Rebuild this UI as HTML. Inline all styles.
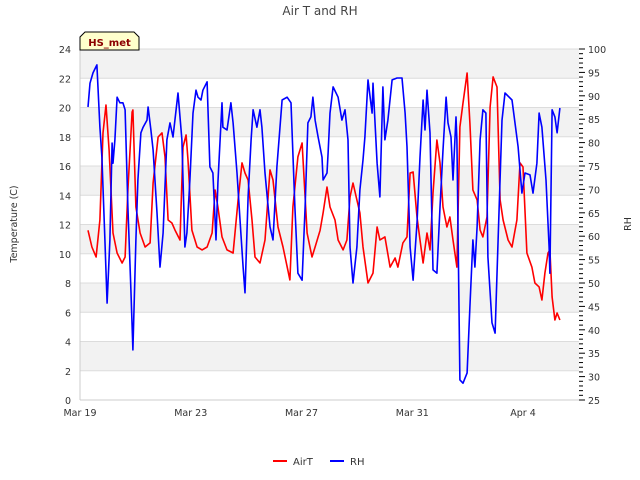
<!DOCTYPE html>
<html><head><meta charset="utf-8"><style>
html,body{margin:0;padding:0;background:#fff;}
svg{display:block;font-family:"DejaVu Sans","Liberation Sans",sans-serif;}
</style></head><body>
<svg id="chart" width="640" height="480">
<text x="320" y="15" text-anchor="middle" font-size="12" fill="#444">Air T and RH</text>
<g id="bands"></g><g id="grid"></g>
<g id="series"></g>
<g id="axes"></g>
<text transform="translate(17,224) rotate(-90)" text-anchor="middle" font-size="9.5" fill="#333">Temperature (C)</text>
<text transform="translate(631,224) rotate(-90)" text-anchor="middle" font-size="9.5" fill="#333">RH</text>
<g>
<path d="M80,50 L80,37 L85,32 L134,32 L139,37 L139,50 Z" fill="#ffffcc" stroke="#000" stroke-width="1"/>
<text x="109.5" y="46" text-anchor="middle" font-size="10" font-weight="bold" fill="#8b0000">HS_met</text>
</g>
<g>
<g><line x1="273" y1="461" x2="287" y2="461" stroke="#ff0000" stroke-width="2"/><text x="293" y="465" font-size="10" fill="#333">AirT</text></g>
<g><line x1="330" y1="461" x2="344" y2="461" stroke="#0000ff" stroke-width="2"/><text x="350" y="465" font-size="10" fill="#333">RH</text></g>
</g>
</svg>
<script>
const airtDays=[0.29,0.43,0.58,0.72,0.83,0.94,1.05,1.19,1.34,1.52,1.63,1.73,1.88,1.91,2.02,2.17,2.35,2.53,2.64,2.82,2.96,3.07,3.18,3.32,3.43,3.61,3.72,3.83,3.90,4.04,4.23,4.41,4.59,4.77,4.88,4.98,5.13,5.31,5.53,5.71,5.85,5.96,6.07,6.21,6.32,6.50,6.68,6.86,6.97,7.15,7.33,7.58,7.69,7.87,8.02,8.20,8.38,8.49,8.67,8.78,8.92,9.03,9.21,9.32,9.50,9.64,9.75,9.86,10.00,10.11,10.22,10.40,10.58,10.73,10.83,11.01,11.20,11.38,11.48,11.66,11.81,11.92,12.03,12.17,12.28,12.39,12.53,12.64,12.75,12.89,13.00,13.11,13.25,13.36,13.47,13.61,13.72,13.83,13.98,14.08,14.19,14.34,14.45,14.55,14.70,14.81,14.92,15.06,15.17,15.28,15.46,15.60,15.78,15.89,16.00,16.14,16.32,16.43,16.58,16.68,16.79,16.90,16.97,17.05,17.15,17.23,17.33];
const airtValues=[11.6,10.46,9.78,12.31,18.26,20.17,17.09,11.42,10.05,9.37,9.78,14.36,19.69,19.83,13.2,11.42,10.46,10.74,14.84,17.98,18.26,16.62,12.31,12.1,11.62,10.94,17.3,18.12,16.41,11.62,10.46,10.26,10.46,11.42,14.36,13.2,11.15,10.26,10.05,13.68,16.21,15.52,15.04,12.31,9.78,9.37,10.94,15.73,15.04,11.83,10.46,8.21,13.2,16.62,17.57,11.42,9.78,10.46,11.6,12.79,14.56,13.2,12.31,10.94,10.26,10.94,13.88,14.84,13.68,12.79,10.46,8.0,8.68,11.83,10.94,11.15,9.09,9.71,9.09,10.74,11.15,15.52,15.59,12.51,10.94,9.37,11.42,10.26,14.15,17.78,16.21,13.2,11.83,12.51,10.94,9.09,18.67,20.31,22.36,18.94,14.36,13.68,11.62,11.15,12.51,20.03,22.09,21.4,13.68,12.31,10.94,10.46,12.31,16.21,15.93,10.05,9.09,8.0,7.73,6.84,8.68,10.05,10.26,7.04,5.47,5.95,5.47];
const rhDays=[0.29,0.36,0.47,0.61,0.72,0.79,0.90,0.98,1.08,1.16,1.19,1.26,1.34,1.44,1.55,1.63,1.73,1.84,1.91,2.02,2.09,2.20,2.28,2.42,2.46,2.56,2.64,2.78,2.89,3.00,3.14,3.25,3.36,3.54,3.68,3.79,3.86,3.97,4.08,4.19,4.26,4.37,4.44,4.59,4.62,4.69,4.80,4.91,4.98,5.13,5.16,5.31,5.45,5.53,5.67,5.78,5.89,5.96,6.07,6.18,6.25,6.39,6.50,6.57,6.68,6.86,6.97,7.11,7.30,7.48,7.62,7.76,7.87,8.02,8.13,8.23,8.34,8.41,8.49,8.60,8.74,8.78,8.92,8.96,9.03,9.14,9.32,9.46,9.57,9.68,9.75,9.86,10.00,10.11,10.22,10.29,10.40,10.55,10.58,10.73,10.83,10.94,11.01,11.12,11.27,11.45,11.63,11.74,11.81,11.92,12.03,12.17,12.28,12.39,12.46,12.53,12.64,12.75,12.89,13.00,13.11,13.22,13.29,13.40,13.47,13.58,13.61,13.72,13.83,13.98,14.08,14.19,14.26,14.34,14.45,14.55,14.66,14.73,14.88,14.99,15.10,15.24,15.35,15.60,15.82,15.96,16.07,16.25,16.36,16.50,16.58,16.68,16.83,16.94,16.97,17.05,17.15,17.23,17.33];
const rhValues=[87.6,92.7,94.9,96.6,83.3,76.9,59.2,45.7,59.2,79.9,75.6,80.6,89.7,88.5,88.5,87.0,66.2,48.5,35.7,59.2,72.0,82.1,83.3,84.8,87.6,82.7,78.4,65.0,53.4,60.7,80.6,84.2,81.2,90.6,80.6,57.7,60.7,72.0,86.3,91.2,89.7,89.1,91.2,93.0,87.6,74.8,73.5,59.2,71.4,88.5,83.3,82.7,88.5,84.2,73.5,63.5,53.4,47.9,68.4,80.6,87.0,83.3,87.0,83.3,73.5,62.0,59.2,74.8,89.1,89.7,88.5,66.2,52.1,50.6,66.2,84.2,85.5,89.7,84.8,81.2,76.9,72.0,73.5,77.8,86.3,91.9,89.7,84.8,87.0,80.6,57.7,50.0,57.7,69.9,76.3,81.2,93.4,86.3,92.7,75.6,68.4,91.9,80.6,84.8,93.4,93.8,93.8,86.3,79.1,57.7,50.6,62.8,76.9,89.1,82.7,91.2,82.1,52.8,52.1,66.2,78.4,89.7,84.2,81.2,72.0,85.5,80.6,29.3,28.6,30.8,44.9,59.2,53.4,62.0,80.6,87.0,86.3,55.6,41.5,39.3,59.2,84.8,90.6,89.1,79.1,69.2,73.5,73.1,69.2,75.6,86.3,83.3,72.0,57.7,52.1,87.0,85.5,82.1,87.4];
const leftTicks=[0,2,4,6,8,10,12,14,16,18,20,22,24];
const rightTicks=[25,30,35,40,45,50,55,60,65,70,75,80,85,90,95,100];
const xTickDays=[0,4,8,12,16];
const xTickLabels=["Mar 19","Mar 23","Mar 27","Mar 31","Apr 4"];

const X0=80,X1=579,Y0=400,Y1=49;
const xs=d=>X0+d*27.69;
const yL=v=>Y0-(v/24)*(Y0-Y1);
const yR=v=>Y0-((v-25)/75)*(Y0-Y1);
const NS="http://www.w3.org/2000/svg";
function mk(tag,attrs,parent){const e=document.createElementNS(NS,tag);for(const k in attrs)e.setAttribute(k,attrs[k]);parent.appendChild(e);return e;}
const bands=document.getElementById('bands'),grid=document.getElementById('grid'),series=document.getElementById('series'),axes=document.getElementById('axes');
mk('rect',{x:X0,y:Y1,width:X1-X0,height:Y0-Y1,fill:'#fff'},bands);
for(let i=0;i<leftTicks.length-1;i++){
  if(i%2===1){const r=mk('rect',{x:X0,y:yL(leftTicks[i+1]),width:X1-X0,height:yL(leftTicks[i])-yL(leftTicks[i+1]),fill:'#f2f2f2'},bands);
  
  }
}
leftTicks.forEach(v=>{
  const l=mk('line',{x1:X0,x2:X1,y1:yL(v),y2:yL(v),stroke:'#dcdcdc','stroke-width':1},grid);
  
  
  const t=mk('text',{x:71,y:yL(v)+4,'text-anchor':'end','font-size':9.5,fill:'#333'},axes);
  t.textContent=v;
  
  
});
mk('line',{x1:X0,x2:X0,y1:Y1,y2:Y0,stroke:'#ccc'},axes);
mk('line',{x1:X0,x2:X1,y1:Y0,y2:Y0,stroke:'#ccc'},axes);
for(let v=25;v<=100;v++){
  const major=v%5===0;
  mk('line',{x1:X1,x2:X1+(major?6:4),y1:yR(v),y2:yR(v),stroke:'#000','stroke-width':1},axes);
}
rightTicks.forEach(v=>{
  const t=mk('text',{x:588,y:yR(v)+4,'font-size':9.5,fill:'#333'},axes);
  t.textContent=v;
  
  
});
xTickDays.forEach((d,i)=>{
  const t=mk('text',{x:xs(d),y:416,'text-anchor':'middle','font-size':9.5,fill:'#333'},axes);
  t.textContent=xTickLabels[i];
  
  
});
function line(days,vals,yf,color,name){
  const pts=days.map((d,i)=>xs(d).toFixed(1)+','+yf(vals[i]).toFixed(1)).join(' ');
  const p=mk('polyline',{points:pts,fill:'none',stroke:color,'stroke-width':1.6,'stroke-linejoin':'round'},series);
  
  
}
line(airtDays,airtValues,yL,'#ff0000','airt-line');
line(rhDays,rhValues,yR,'#0000ff','rh-line');
</script>
</body></html>
